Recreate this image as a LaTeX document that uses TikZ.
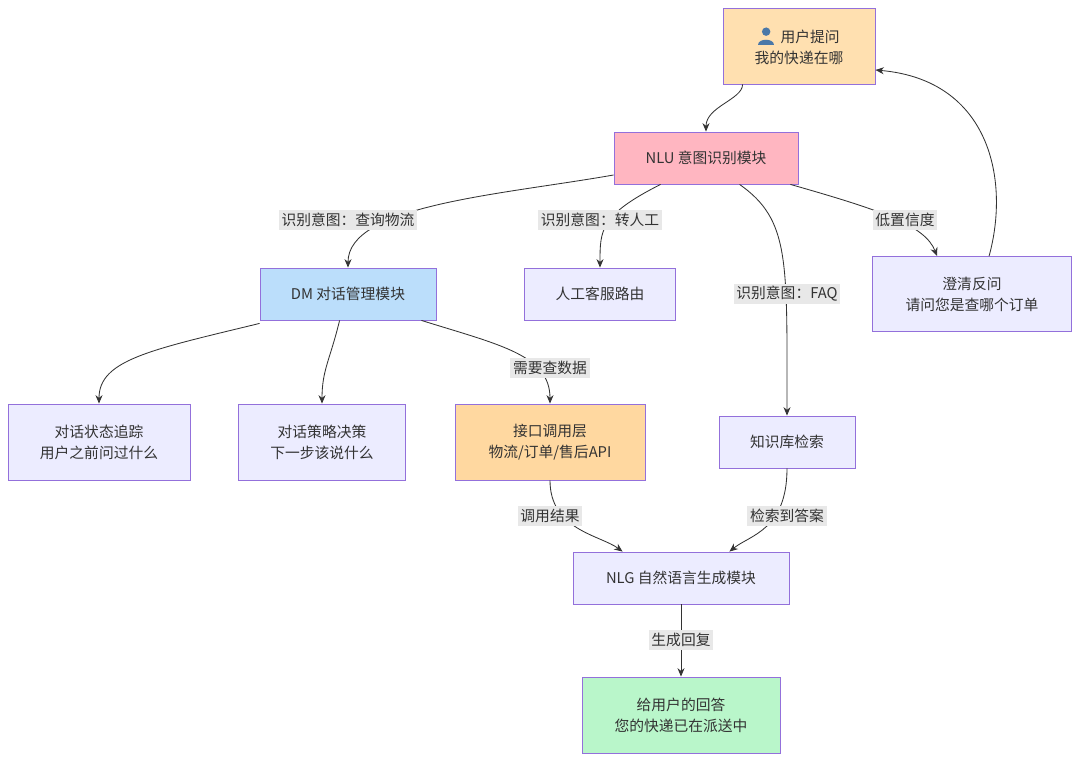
\documentclass[tikz,border=0pt]{standalone}
\usepackage{fontspec}
\setmainfont{Noto Sans CJK SC}
\usetikzlibrary{arrows.meta,calc}
\definecolor{edgegray}{HTML}{333333}
\definecolor{boxline}{HTML}{9370DB}
\definecolor{boxfill}{HTML}{ECECFF}
\definecolor{lblfill}{HTML}{E8E8E8}
\definecolor{usericon}{HTML}{4A78A8}
\newcommand{\personicon}{\tikz[baseline=-1pt,x=1pt,y=1pt]{\fill[usericon] (0,6.5) circle (3);
  \fill[usericon] (-5.5,-3) .. controls (-5.5,2) and (5.5,2) .. (5.5,-3) -- cycle;}}
\tikzset{
  box/.style={draw=boxline, fill=boxfill, line width=0.6pt, align=center,
    font=\fontsize{10.5}{15}\selectfont, text=black!80, inner sep=0pt},
  lbl/.style={fill=lblfill, font=\fontsize{10.5}{13}\selectfont, text=black!80,
    inner sep=2pt},
  link/.style={draw=edgegray, line width=0.6pt, -{Stealth[length=6pt,width=5pt]}}
}
\begin{document}
\begin{tikzpicture}[x=0.025cm, y=-0.025cm]
  \useasboundingbox (0,0) rectangle (1080,761);
  % nodes
  \node[box, fill={rgb,255:red,255;green,224;blue,176}, minimum width=152*0.025cm, minimum height=76*0.025cm]
    (ask) at (799,46) {\personicon\ \ 用户提问\\我的快递在哪};
  \node[box, fill={rgb,255:red,255;green,182;blue,193}, minimum width=184*0.025cm, minimum height=52*0.025cm]
    (nlu) at (706,158) {NLU 意图识别模块};
  \node[box, fill={rgb,255:red,187;green,222;blue,251}, minimum width=176*0.025cm, minimum height=52*0.025cm]
    (dm) at (348,294) {DM 对话管理模块};
  \node[box, minimum width=151*0.025cm, minimum height=52*0.025cm]
    (human) at (600,294) {人工客服路由};
  \node[box, minimum width=199*0.025cm, minimum height=75*0.025cm]
    (clarify) at (972,294) {澄清反问\\请问您是查哪个订单};
  \node[box, minimum width=182*0.025cm, minimum height=76*0.025cm]
    (state) at (99,442) {对话状态追踪\\用户之前问过什么};
  \node[box, minimum width=167*0.025cm, minimum height=76*0.025cm]
    (policy) at (322,442) {对话策略决策\\下一步该说什么};
  \node[box, fill={rgb,255:red,255;green,216;blue,160}, minimum width=190*0.025cm, minimum height=76*0.025cm]
    (api) at (550,442) {接口调用层\\物流/订单/售后API};
  \node[box, minimum width=136*0.025cm, minimum height=52*0.025cm]
    (kb) at (787,442) {知识库检索};
  \node[box, minimum width=216*0.025cm, minimum height=52*0.025cm]
    (nlg) at (681,578) {NLG 自然语言生成模块};
  \node[box, fill={rgb,255:red,185;green,246;blue,202}, minimum width=198*0.025cm, minimum height=76*0.025cm]
    (reply) at (681,715) {给用户的回答\\您的快递已在派送中};
  % connectors
  \draw[link] ($(ask.south west)+(20,0)$) .. controls +(0,15) and +(0,-25) .. (nlu.north);
  \draw[link] ($(nlu.west)+(0,17)$) .. controls (500,195) and (348,205) .. (dm.north);
  \draw[link] ($(nlu.south west)+(47,0)$) .. controls (600,215) and (600,230) .. (human.north);
  \draw[link] ($(nlu.south west)+(126,0)$) .. controls (790,220) and (787,260) .. (kb.north);
  \draw[link] ($(nlu.south east)+(-8,0)$) .. controls (880,210) and (925,225) .. ($(clarify.north west)+(65,0)$);
  \draw[link] ($(clarify.north west)+(117,0)$) .. controls (1010,180) and (990,80) .. ($(ask.east)+(0,24)$);
  \draw[link] ($(dm.south west)+(0,3)$) .. controls (150,350) and (99,360) .. (state.north);
  \draw[link] ($(dm.south west)+(80,0)$) .. controls (330,360) and (322,370) .. (policy.north);
  \draw[link] ($(dm.south east)+(-15,0)$) .. controls (500,345) and (550,355) .. (api.north);
  \draw[link] (api.south) .. controls (550,530) and (600,535) .. ($(nlg.north west)+(50,0)$);
  \draw[link] (kb.south) .. controls (787,530) and (750,535) .. ($(nlg.north east)+(-60,0)$);
  \draw[link] (nlg.south) -- (reply.north);
  % edge labels
  \node[lbl] (l1) at (348,220) {识别意图：查询物流};
  \node[lbl] (l2) at (600,220) {识别意图：转人工};
  \node[lbl] (l3) at (787,294) {识别意图：FAQ};
  \node[lbl] (l4) at (905,220) {低置信度};
  \node[lbl] (l5) at (550,368) {需要查数据};
  \node[lbl] (l6) at (550,516) {调用结果};
  \node[lbl] (l7) at (787,516) {检索到答案};
  \node[lbl] (l8) at (681,640) {生成回复};
\end{tikzpicture}
\end{document}
